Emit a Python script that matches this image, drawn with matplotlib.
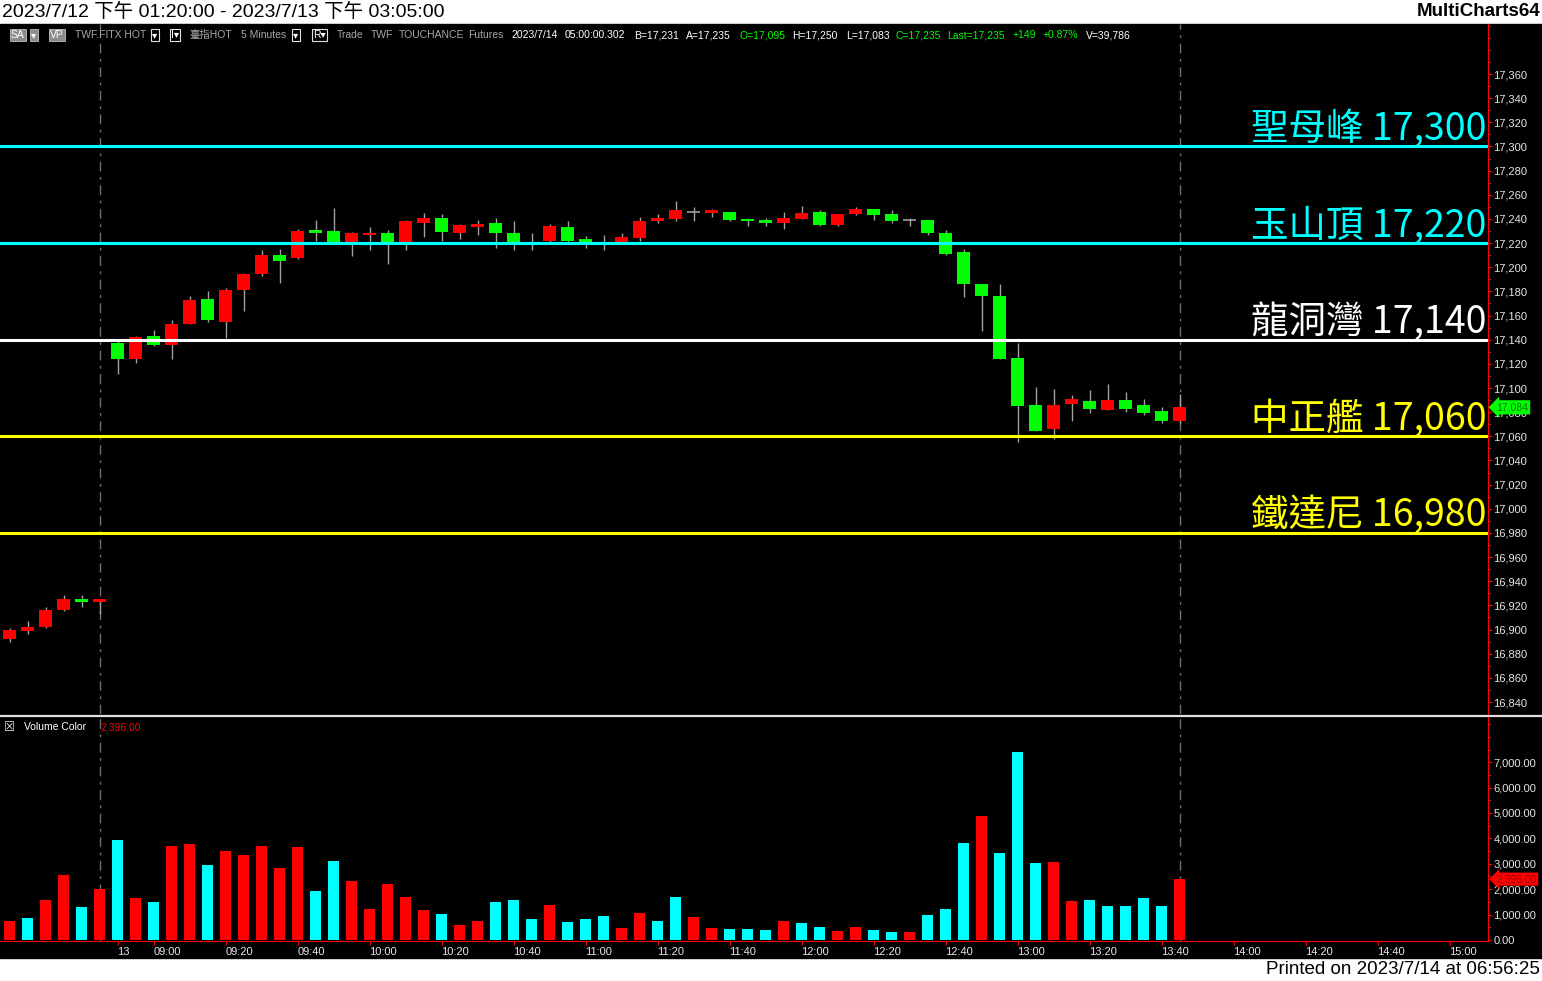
import matplotlib
matplotlib.use("Agg")
import matplotlib.pyplot as plt
import matplotlib.transforms as mtransforms
from matplotlib.lines import Line2D
from matplotlib.patches import Rectangle
from matplotlib.ticker import FuncFormatter, MultipleLocator
import numpy as np

plt.rcParams['font.family'] = ['Liberation Sans', 'Noto Sans CJK TC', 'DejaVu Sans']

# ---- data (5-minute bars, TWF.FITX HOT) ----
open_ = [16892, 16899, 16902, 16916, 16925, 16923,
         17137, 17124, 17143, 17136, 17153, 17174, 17155, 17181, 17194, 17210,
         17208, 17231, 17230, 17221, 17227, 17228, 17218, 17237, 17241, 17228,
         17233, 17237, 17228, 17220, 17222, 17233, 17223, 17220, 17221, 17224,
         17238, 17240, 17246, 17245, 17246, 17240, 17239, 17237, 17240, 17246,
         17235, 17244, 17248, 17244, 17239, 17239, 17228, 17213, 17186, 17176,
         17125, 17086, 17066, 17087, 17089, 17082, 17090, 17086, 17081, 17073]
high_ = [16901, 16907, 16919, 16929, 16929, 16925,
         17140, 17143, 17148, 17156, 17176, 17180, 17183, 17195, 17214, 17215,
         17232, 17239, 17249, 17229, 17233, 17231, 17239, 17245, 17244, 17236,
         17239, 17241, 17238, 17228, 17236, 17238, 17226, 17227, 17228, 17242,
         17244, 17255, 17250, 17248, 17246, 17241, 17241, 17246, 17251, 17247,
         17244, 17250, 17248, 17247, 17241, 17239, 17231, 17215, 17186, 17186,
         17137, 17101, 17099, 17094, 17098, 17103, 17097, 17091, 17084, 17095]
low_ = [16890, 16896, 16901, 16915, 16919, 16913,
        17112, 17121, 17135, 17124, 17153, 17155, 17141, 17164, 17193, 17187,
        17207, 17222, 17220, 17209, 17214, 17203, 17214, 17225, 17222, 17223,
        17227, 17216, 17214, 17214, 17221, 17219, 17216, 17214, 17220, 17222,
        17237, 17238, 17238, 17242, 17238, 17234, 17234, 17232, 17240, 17234,
        17234, 17243, 17239, 17237, 17234, 17227, 17210, 17175, 17147, 17124,
        17055, 17064, 17058, 17073, 17079, 17082, 17080, 17078, 17071, 17071]
close_ = [16900, 16902, 16916, 16925, 16923, 16925,
          17124, 17142, 17136, 17153, 17173, 17156, 17181, 17194, 17210, 17205,
          17230, 17228, 17221, 17228, 17228, 17218, 17238, 17241, 17229, 17235,
          17236, 17228, 17221, 17220, 17234, 17222, 17221, 17220, 17225, 17238,
          17241, 17247, 17246, 17247, 17239, 17238, 17237, 17241, 17245, 17235,
          17244, 17248, 17243, 17238, 17239, 17228, 17211, 17186, 17176, 17124,
          17085, 17064, 17086, 17091, 17083, 17090, 17083, 17079, 17073, 17084]
volume = [766, 885, 1587, 2540, 1310, 2024,
          3929, 1667, 1508, 3690, 3770, 2937, 3492, 3333, 3690, 2817,
          3651, 1944, 3095, 2341, 1230, 2222, 1706, 1190, 1032, 595,
          754, 1508, 1587, 833, 1389, 714, 833, 952, 476, 1071,
          754, 1706, 913, 476, 437, 437, 397, 754, 675, 516,
          357, 516, 397, 317, 317, 992, 1230, 3810, 4881, 3413,
          7421, 3016, 3056, 1548, 1587, 1349, 1349, 1667, 1349, 2396]
# 'r' = red volume bar, 'c' = cyan volume bar
vol_kind = ['r', 'c', 'r', 'r', 'c', 'r',
            'c', 'r', 'c', 'r', 'r', 'c', 'r', 'r', 'r', 'r',
            'r', 'c', 'c', 'r', 'r', 'r', 'r', 'r', 'c', 'r',
            'r', 'c', 'c', 'c', 'r', 'c', 'c', 'c', 'r', 'r',
            'c', 'c', 'r', 'r', 'c', 'c', 'c', 'r', 'c', 'c',
            'r', 'r', 'c', 'c', 'r', 'c', 'c', 'c', 'r', 'c',
            'c', 'c', 'r', 'r', 'c', 'c', 'c', 'c', 'c', 'r']

levels = [17300, 17220, 17140, 17060, 16980]
level_names = ['聖母峰', '玉山頂', '龍洞灣', '中正艦', '鐵達尼']

time_ticks = [6, 8, 12, 16, 20, 24, 28, 32, 36, 40, 44, 48, 52, 56, 60, 64, 68, 72, 76, 80]
time_labels = ['13', '09:00', '09:20', '09:40', '10:00', '10:20', '10:40', '11:00',
               '11:20', '11:40', '12:00', '12:20', '12:40', '13:00', '13:20', '13:40',
               '14:00', '14:20', '14:40', '15:00']
session_breaks = [5, 65]
last_price = 17084
last_volume = 2396

# ---- figure ----
W, H = 1542, 981
fig = plt.figure(figsize=(W / 100, H / 100), dpi=100, facecolor='white')


def fx(x):
    return x / W


def fy(y):
    return 1 - y / H


fig.add_artist(Rectangle((0, fy(958)), 1, (958 - 24) / H, transform=fig.transFigure,
                         color='black', zorder=-1))

AX_R = 1488
ax = fig.add_axes([0, fy(714), fx(AX_R), (714 - 24) / H], facecolor='black')
axv = fig.add_axes([0, fy(941), fx(AX_R), (941 - 717) / H], facecolor='black', sharex=ax)

o, h, l, c = map(np.array, (open_, high_, low_, close_))
idx = np.arange(len(c))
up, dn, flat = c > o, c < o, c == o
WICK = '#A0A0A0'
ax.vlines(idx, l, h, color=WICK, lw=1, zorder=2)
ax.bar(idx[up], (c - o)[up], bottom=o[up], width=0.72, color='#FF0000', lw=0, zorder=3)
ax.bar(idx[dn], (o - c)[dn], bottom=c[dn], width=0.72, color='#00FF00', lw=0, zorder=3)
ax.hlines(c[flat], idx[flat] - 0.36, idx[flat] + 0.36, color=WICK, lw=1.2, zorder=3)

for b in session_breaks:
    for a in (ax, axv):
        a.axvline(b, color='#6E6E6E', lw=1, ls=(0, (7, 4, 2, 4)), zorder=1)

lv_colors = ['#00FFFF', '#00FFFF', '#FFFFFF', '#FFFF00', '#FFFF00']
trans = mtransforms.blended_transform_factory(ax.transAxes, ax.transData)
for lv, name, col in zip(levels, level_names, lv_colors):
    ax.axhline(lv, color=col, lw=2.2, zorder=4)
    ax.text(0.9988, lv + 5.5, f"{name} {lv:,}", transform=trans, ha='right',
            va='baseline', fontsize=27, color=col, zorder=5,
            family=['Noto Sans CJK TC', 'DejaVu Sans'])

ax.set_xlim(-0.53, (AX_R - 9.5) / 18)
ax.set_ylim(17360 - (714 - 74) / 1.2077, 17360 + 50 / 1.2077)

for a in (ax, axv):
    for s in ('left', 'top', 'bottom'):
        a.spines[s].set_visible(False)
    a.spines['right'].set_color('#FF0000')
    a.yaxis.tick_right()
    a.tick_params(axis='y', which='both', colors='#FF0000', labelcolor='#E6E6E6',
                  labelsize=8, pad=1)
    a.tick_params(axis='y', which='major', length=3)
    a.tick_params(axis='y', which='minor', length=2)

ax.set_yticks(np.arange(16840, 17361, 20))
ax.yaxis.set_minor_locator(MultipleLocator(10))
ax.yaxis.set_major_formatter(FuncFormatter(lambda v, p: f"{v:,.0f}"))
ax.tick_params(axis='x', which='both', bottom=False, labelbottom=False)

# volume
vcol = ['#FF0000' if k == 'r' else '#00FFFF' for k in vol_kind]
axv.bar(idx, volume, width=0.61, color=vcol, lw=0, zorder=3)
axv.set_ylim(-40, 8780)
axv.set_yticks(np.arange(0, 7001, 1000))
axv.yaxis.set_minor_locator(MultipleLocator(500))
axv.yaxis.set_major_formatter(FuncFormatter(lambda v, p: f"{v:,.2f}"))
axv.spines['bottom'].set_visible(True)
axv.spines['bottom'].set_color('#FF0000')
axv.set_xticks(time_ticks)
axv.set_xticklabels(time_labels, ha='left')
axv.tick_params(axis='x', colors='#FF0000', labelcolor='#E6E6E6', labelsize=8,
                length=3, pad=1)

# last-value markers (cover the axis label underneath, as in the terminal)
ax.text(1.0055, last_price, f"{last_price:,}", transform=trans, ha='left', va='center',
        fontsize=7.5, color='#007A00', clip_on=False, zorder=10,
        bbox=dict(boxstyle='larrow,pad=0.2', fc='#00FF00', ec='none'))
transv = mtransforms.blended_transform_factory(axv.transAxes, axv.transData)
axv.text(1.0055, last_volume, f"{last_volume:,.2f}", transform=transv, ha='left',
         va='center', fontsize=7.5, color='#8B0000', clip_on=False, zorder=10,
         bbox=dict(boxstyle='larrow,pad=0.15', fc='#FF0000', ec='none'))

# panel separator
fig.add_artist(Line2D([0, 1], [fy(715.5), fy(715.5)], transform=fig.transFigure,
                      color='#E0E0E0', lw=1.6))

# volume header
fig.text(fx(4), fy(727), '☒', color='#E6E6E6', fontsize=9, va='center',
         family='DejaVu Sans')
fig.text(fx(24), fy(727), 'Volume Color', color='#FFFFFF', fontsize=7.5, va='center')
fig.text(fx(100), fy(727), f"{last_volume:,.2f}", color='#FF0000', fontsize=7.5,
         va='center')

# toolbar line
tb_y = fy(35)
boxed = [(11, 'SA', 'fill'), (31, '▾', 'fill'), (50, 'VP', 'fill'),
         (152, '▾', 'line'), (171, 'I▾', 'line'), (293, '▾', 'line'), (313, 'R▾', 'line')]
for x, t, kind in boxed:
    if kind == 'fill':
        bb = dict(boxstyle='square,pad=0.12', fc='#8C8C8C', ec='#C0C0C0', lw=0.6)
    else:
        bb = dict(boxstyle='square,pad=0.12', fc='black', ec='#E0E0E0', lw=0.8)
    fig.text(fx(x), tb_y, t, color='#FFFFFF', fontsize=7.5, va='center', bbox=bb,
             family=['Liberation Sans', 'DejaVu Sans'])

GRAY, WHITE, GREEN = '#A8A8A8', '#FFFFFF', '#00FF00'
tokens = [(75, 'TWF.FITX HOT', GRAY), (189, '臺指HOT', GRAY), (241, '5 Minutes', GRAY),
          (337, 'Trade', GRAY), (371, 'TWF', GRAY), (399, 'TOUCHANCE', GRAY),
          (468, 'Futures', GRAY), (511, '2023/7/14', WHITE), (565, '05:00:00.302', WHITE),
          (634, 'B=17,231', WHITE), (686, 'A=17,235', WHITE), (739, 'O=17,095', GREEN),
          (792, 'H=17,250', WHITE), (846, 'L=17,083', WHITE), (895, 'C=17,235', GREEN),
          (947, 'Last=17,235', GREEN), (1013, '+149', GREEN), (1043, '+0.87%', GREEN),
          (1086, 'V=39,786', WHITE)]
for x, t, col in tokens:
    fig.text(fx(x), tb_y, t, color=col, fontsize=7.5, va='center')

# title band and footer
fig.text(fx(2), fy(12), '2023/7/12 下午 01:20:00 - 2023/7/13 下午 03:05:00',
         fontsize=14, va='center', color='black')
fig.text(fx(1540), fy(12), 'MultiCharts64', fontsize=13.5, fontweight='bold',
         ha='right', va='center', color='black')
fig.text(fx(1540), fy(970), 'Printed on 2023/7/14 at 06:56:25', fontsize=13.5,
         ha='right', va='center', color='black')

fig.savefig('out.png', dpi=100, facecolor=fig.get_facecolor())
